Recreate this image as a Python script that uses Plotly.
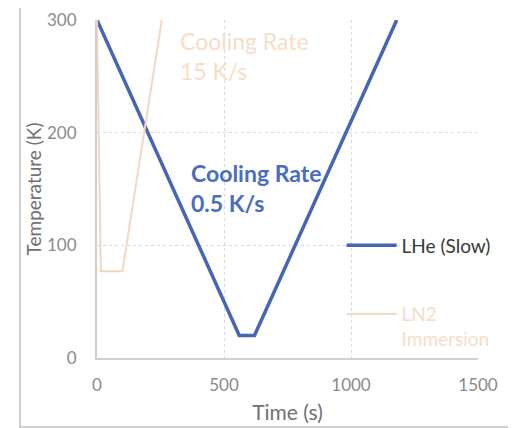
import plotly.graph_objects as go

# Data
time_lhe = [0, 560, 620, 1180]
temp_lhe = [300, 20, 20, 300]
time_ln2 = [0, 15, 100, 255]
temp_ln2 = [300, 77, 77, 300]

x_ticks = [0, 500, 1000, 1500]
y_ticks = [0, 100, 200, 300]

BLUE = "#4565b5"
PEACH = "#f5d6bf"
PEACH_TEXT = "#f8dcc6"
FONT = "Lato"

fig = go.Figure()
fig.add_trace(go.Scatter(
    x=time_lhe, y=temp_lhe, mode="lines", name="LHe (Slow)",
    line=dict(color=BLUE, width=3.5), legendgroup="a",
    cliponaxis=False,
))
fig.add_trace(go.Scatter(
    x=time_ln2, y=temp_ln2, mode="lines",
    name=f"<span style='color:{PEACH_TEXT}'>LN2</span><br><span style='color:{PEACH_TEXT}'>Immersion</span>",
    line=dict(color=PEACH, width=2), legendgroup="b",
    cliponaxis=False,
))

fig.add_annotation(x=318, y=268, xref="x", yref="y", xanchor="left", yanchor="middle",
                   align="left", showarrow=False,
                   text="Cooling Rate<br>15 K/s",
                   font=dict(family=FONT, size=23, color=PEACH_TEXT))
fig.add_annotation(x=362, y=151, xref="x", yref="y", xanchor="left", yanchor="middle",
                   align="left", showarrow=False,
                   text="<b>Cooling Rate</b><br><b>0.5 K/s</b>",
                   font=dict(family=FONT, size=23, color="#4a6dc0"))

# chart frame
fig.add_shape(type="rect", xref="paper", yref="paper",
              x0=-0.202, x1=1.25, y0=-0.204, y1=1.041,
              line=dict(color="#cfcfcf", width=2), layer="above")

# page has an 8px body margin; compensate so the plot area lands where the reference has it
L, R, T, B = 89, 46, 12, 78
fig.update_layout(
    width=516, height=428,
    margin=dict(l=L, r=R, t=T, b=B, autoexpand=False),
    paper_bgcolor="white", plot_bgcolor="white",
    font=dict(family=FONT, color="#808080"),
    showlegend=True,
    legend=dict(x=0.642, y=0.389, xanchor="left", yanchor="top",
                bgcolor="rgba(0,0,0,0)", traceorder="grouped",
                tracegroupgap=41, valign="top", itemwidth=50,
                font=dict(family=FONT, size=19, color="#3a3a3a")),
    xaxis=dict(range=[0, 1500], tickvals=x_ticks, showgrid=True,
               gridcolor="#d9d9d9", griddash="dot", gridwidth=1,
               showline=True, linecolor="#d0d0d0", linewidth=2,
               zeroline=False, ticks="", ticklabelstandoff=11,
               tickfont=dict(size=17, color="#8a8a8a"),
               title=dict(text="Time (s)", font=dict(size=21, color="#707070"), standoff=11)),
    yaxis=dict(range=[0, 300], tickvals=y_ticks, showgrid=True,
               gridcolor="#d9d9d9", griddash="dot", gridwidth=1,
               showline=True, linecolor="#d0d0d0", linewidth=2,
               zeroline=False, ticks="", ticklabelstandoff=15,
               tickfont=dict(size=17, color="#8a8a8a"),
               title=dict(text="Temperature (K)", font=dict(size=19, color="#707070"), standoff=0)),
)

fig.write_html("out.html")
